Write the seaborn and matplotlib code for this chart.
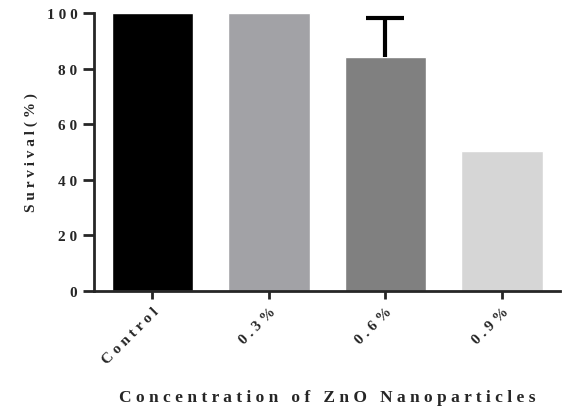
import matplotlib
matplotlib.use("Agg")
import matplotlib.pyplot as plt
import seaborn as sns
import pandas as pd

categories = ["Control", "0.3%", "0.6%", "0.9%"]
survival = [100, 100, 84, 50.5]
err_upper = [0, 0, 14, 0]
colors = ["#000000", "#a2a2a6", "#808080", "#d6d6d6"]
yticks = [0, 20, 40, 60, 80, 100]


def spaced(s, sep=" ", wordsep=3):
    words = s.split(" ")
    return (sep * wordsep).join(sep.join(w) for w in words)


sns.set_style("ticks")
plt.rcParams["font.family"] = ["Liberation Serif", "DejaVu Serif"]
plt.rcParams["font.weight"] = "bold"

fig = plt.figure(figsize=(5.63, 4.10), dpi=100)
ax = fig.add_axes([0.167, 0.288, 0.828, 0.678])

df = pd.DataFrame({"cat": categories, "val": survival})
sns.barplot(data=df, x="cat", y="val", hue="cat", palette=colors,
            legend=False, errorbar=None, width=0.7, ax=ax, saturation=1)

for i, (v, e) in enumerate(zip(survival, err_upper)):
    if e > 0:
        _, caps, _ = ax.errorbar(i, v, yerr=[[0], [e]], fmt="none", ecolor="black",
                                 elinewidth=3, capsize=14, capthick=3, zorder=1)
        caps[0].set_visible(False)

ax.set_xlim(-0.5, 3.5)
ax.set_ylim(0, 100)
ax.set_yticks(yticks)
ax.set_yticklabels([spaced(str(t)) for t in yticks], fontsize=11, fontweight="bold")
ax.set_xticks(range(len(categories)))
ax.set_xticklabels([spaced(c) for c in categories], rotation=45, ha="right",
                   rotation_mode="anchor", fontsize=11, fontweight="bold")
ax.set_ylabel(spaced("Survival (%)", wordsep=1), fontsize=11, fontweight="bold", labelpad=6)
ax.set_xlabel(spaced("Concentration of ZnO Nanoparticles"), fontsize=12.5,
              fontweight="bold", labelpad=16)

for s in ["left", "bottom"]:
    ax.spines[s].set_linewidth(2)
for s in ["top", "right"]:
    ax.spines[s].set_visible(False)
ax.tick_params(axis="y", length=8, width=2, pad=4)
ax.tick_params(axis="x", length=6, width=2, pad=4)

fig.savefig("out.png", dpi=100)
